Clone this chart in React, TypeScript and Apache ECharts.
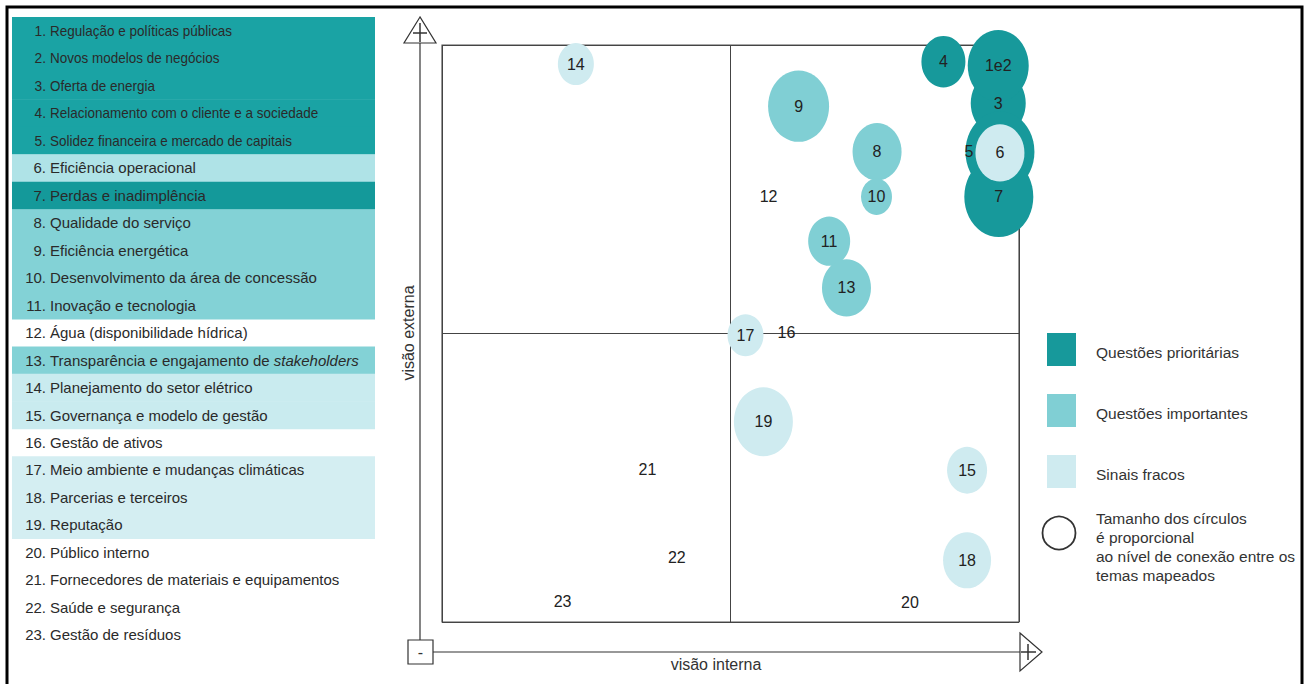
import React, { useEffect, useRef } from "react";
import * as echarts from "echarts";

// ---- data ----
const topics = [
  "Regulação e políticas públicas",
  "Novos modelos de negócios",
  "Oferta de energia",
  "Relacionamento com o cliente e a sociedade",
  "Solidez financeira e mercado de capitais",
  "Eficiência operacional",
  "Perdas e inadimplência",
  "Qualidade do serviço",
  "Eficiência energética",
  "Desenvolvimento da área de concessão",
  "Inovação e tecnologia",
  "Água (disponibilidade hídrica)",
  "Transparência e engajamento de {i|stakeholders}",
  "Planejamento do setor elétrico",
  "Governança e modelo de gestão",
  "Gestão de ativos",
  "Meio ambiente e mudanças climáticas",
  "Parcerias e terceiros",
  "Reputação",
  "Público interno",
  "Fornecedores de materiais e equipamentos",
  "Saúde e segurança",
  "Gestão de resíduos",
];
// 0 = prioritária, 1 = importante, 2 = sinal fraco, 3 = sem classificação
const topicGroup = [0, 0, 0, 0, 0, 2, 0, 1, 1, 1, 1, 3, 1, 2, 2, 3, 2, 2, 2, 3, 3, 3, 3];

const bubbleLabels = ["14", "9", "8", "10", "11", "13", "17", "19", "15", "18", "4", "3", "1e2", "5", "7", "6"];
const bubbleX = [23.2, 61.8, 75.4, 75.3, 67.1, 70.1, 52.6, 55.7, 91.0, 91.0, 86.9, 96.4, 96.4, 96.7, 96.5, 96.7];
const bubbleY = [96.7, 89.4, 81.5, 73.7, 66.0, 57.9, 49.7, 34.7, 26.3, 10.7, 97.1, 89.9, 96.4, 81.5, 73.7, 81.3];
const bubbleSize = [36, 61, 49, 31, 42, 49, 36, 59, 40, 48, 44, 55, 61, 69, 69, 49];
const bubbleGroup = [2, 1, 1, 1, 1, 1, 2, 2, 2, 2, 0, 0, 0, 0, 0, 2];

const textLabels = ["12", "16", "21", "22", "23", "20"];
const textX = [56.6, 59.7, 35.6, 40.7, 20.9, 81.1];
const textY = [73.7, 50.1, 26.5, 11.1, 3.5, 3.3];

const legendNames = ["Questões prioritárias", "Questões importantes", "Sinais fracos"];
const legendNote = ["Tamanho dos círculos", "é proporcional", "ao nível de conexão entre os", "temas mapeados"];

const groupColors = ["#17999b", "#80cfd4", "#cfebf0"];
const rowColors = ["#1aa3a4", "#83d2d6", "#c9ebef", "rgba(0,0,0,0)"];
const rowColorsSpecial: Record<number, string> = { 5: "#afe3e7", 6: "#14999a", 16: "#d4eef2", 17: "#d4eef2", 18: "#d4eef2" };

const FONT = "Liberation Sans, Arial, sans-serif";

export default function App() {
  const ref = useRef<HTMLDivElement>(null);
  useEffect(() => {
    if (!ref.current) return;
    const chart = echarts.init(ref.current, undefined, { renderer: "svg" });

    const rowTop = 17;
    const rowH = 27.45;
    const graphics: any[] = [];

    // outer frame
    graphics.push({
      type: "rect",
      shape: { x: 7, y: 7, width: 1295, height: 700 },
      style: { fill: "none", stroke: "#000", lineWidth: 3 },
      z: 10,
    });

    // list rows
    topics.forEach((t, i) => {
      const y0 = rowTop + i * rowH;
      const fill = rowColorsSpecial[i] ?? rowColors[topicGroup[i]];
      const condensed = i < 5;
      graphics.push({
        type: "rect",
        shape: { x: 12, y: y0, width: 363, height: rowH + 0.5 },
        style: { fill },
        z: 1,
      });
      graphics.push({
        type: "text",
        x: 46,
        y: y0 + rowH / 2,
        scaleX: condensed ? 0.92 : 1,
        style: {
          text: `${i + 1}.`,
          align: "right",
          verticalAlign: "middle",
          font: `15px ${FONT}`,
          fill: "#2a2a2a",
        },
        z: 2,
      });
      graphics.push({
        type: "text",
        x: 50,
        y: y0 + rowH / 2,
        scaleX: condensed ? 0.9 : 1,
        style: {
          text: t,
          align: "left",
          verticalAlign: "middle",
          font: `15px ${FONT}`,
          fill: "#2a2a2a",
          rich: {
            i: { fontStyle: "italic", fontSize: 15, fontFamily: FONT, fill: "#2a2a2a" },
          },
        },
        z: 2,
      });
    });

    // axes arrows
    const axisStroke = "#333";
    graphics.push(
      { type: "line", shape: { x1: 420, y1: 43, x2: 420, y2: 640 }, style: { stroke: axisStroke, lineWidth: 1.2 } },
      { type: "line", shape: { x1: 433, y1: 652, x2: 1020, y2: 652 }, style: { stroke: axisStroke, lineWidth: 1.2 } },
      {
        type: "polygon",
        shape: { points: [[420, 17], [404, 43], [436, 43]] },
        style: { fill: "#fff", stroke: axisStroke, lineWidth: 1.2 },
      },
      { type: "line", shape: { x1: 420, y1: 23, x2: 420, y2: 42 }, style: { stroke: axisStroke, lineWidth: 1.5 } },
      { type: "line", shape: { x1: 413, y1: 33, x2: 427, y2: 33 }, style: { stroke: axisStroke, lineWidth: 1.5 } },
      {
        type: "rect",
        shape: { x: 408, y: 640, width: 25, height: 24 },
        style: { fill: "#fff", stroke: axisStroke, lineWidth: 1.2 },
      },
      {
        type: "text",
        x: 420.5,
        y: 652,
        style: { text: "-", align: "center", verticalAlign: "middle", font: `16px ${FONT}`, fill: "#333" },
      },
      {
        type: "polygon",
        shape: { points: [[1020, 633], [1042, 652], [1020, 671]] },
        style: { fill: "#fff", stroke: axisStroke, lineWidth: 1.2 },
      },
      { type: "line", shape: { x1: 1021, y1: 652, x2: 1036, y2: 652 }, style: { stroke: axisStroke, lineWidth: 1.5 } },
      { type: "line", shape: { x1: 1028, y1: 644, x2: 1028, y2: 660 }, style: { stroke: axisStroke, lineWidth: 1.5 } },
      {
        type: "text",
        x: 716,
        y: 664,
        style: { text: "visão interna", align: "center", verticalAlign: "middle", font: `16px ${FONT}`, fill: "#333" },
      },
      {
        type: "text",
        x: 408,
        y: 333,
        rotation: Math.PI / 2,
        style: { text: "visão externa", align: "center", verticalAlign: "middle", font: `16px ${FONT}`, fill: "#333" },
      }
    );

    // legend
    const legendY = [333, 394, 455];
    legendNames.forEach((n, i) => {
      graphics.push({
        type: "rect",
        shape: { x: 1047, y: legendY[i], width: 29, height: 33 },
        style: { fill: groupColors[i] },
      });
      graphics.push({
        type: "text",
        x: 1096,
        y: legendY[i] + 19,
        style: { text: n, align: "left", verticalAlign: "middle", font: `15.5px ${FONT}`, fill: "#333" },
      });
    });
    graphics.push({
      type: "circle",
      shape: { cx: 1059, cy: 533, r: 16.5 },
      style: { fill: "none", stroke: "#333", lineWidth: 1.8 },
    });
    legendNote.forEach((line, i) => {
      graphics.push({
        type: "text",
        x: 1096,
        y: 518 + i * 19,
        style: { text: line, align: "left", verticalAlign: "middle", font: `15.5px ${FONT}`, fill: "#333" },
      });
    });

    const bubbleData = bubbleLabels.map((l, i) => ({
      value: [bubbleX[i], bubbleY[i], bubbleSize[i]],
      name: l,
      itemStyle: { color: groupColors[bubbleGroup[i]] },
      label: l === "5" ? { offset: [-31, 0] } : undefined,
    }));
    const textData = textLabels.map((l, i) => ({ value: [textX[i], textY[i]], name: l }));

    const axisCommon = {
      type: "value",
      min: 0,
      max: 100,
      interval: 50,
      axisLine: { show: false },
      axisTick: { show: false },
      axisLabel: { show: false },
      splitLine: { show: true, lineStyle: { color: "#444", width: 1 } },
    };

    const labelStyle = {
      show: true,
      position: "inside",
      formatter: (p: any) => p.name,
      fontFamily: FONT,
      fontSize: 16,
      color: "#222",
      opacity: 1,
    };

    chart.setOption({
      animation: false,
      grid: {
        left: 442,
        top: 45,
        width: 577,
        height: 577,
        show: true,
        borderColor: "#555",
        borderWidth: 1.2,
        backgroundColor: "transparent",
      },
      xAxis: { ...axisCommon },
      yAxis: { ...axisCommon },
      series: [
        {
          type: "scatter",
          clip: false,
          data: bubbleData,
          symbol: "circle",
          symbolSize: (val: number[]) => [val[2], val[2] * 1.17],
          itemStyle: { opacity: 1 },
          label: labelStyle,
          z: 3,
        },
        {
          type: "scatter",
          clip: false,
          data: textData,
          symbolSize: 0.5,
          itemStyle: { color: "#fff", opacity: 1 },
          label: labelStyle,
          z: 4,
        },
      ],
      graphic: graphics,
    });
    return () => chart.dispose();
  }, []);
  return (
    <div
      ref={ref}
      style={{ position: "absolute", left: 0, top: 0, width: 1306, height: 684, background: "#fff" }}
    />
  );
}
